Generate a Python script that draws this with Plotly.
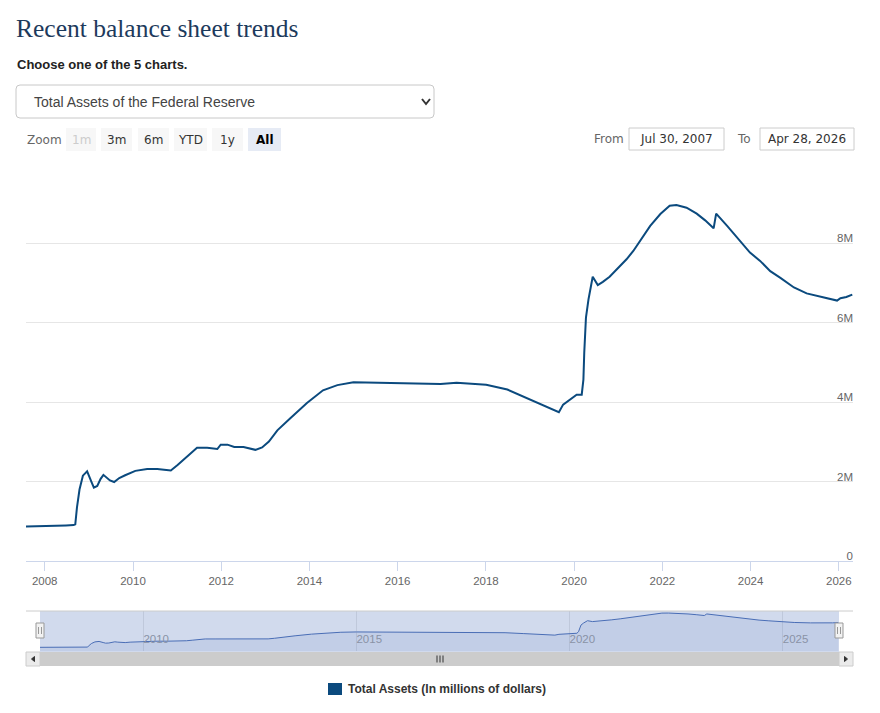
import plotly.graph_objects as go

W, H = 880, 713

# ---------------- data (millions of dollars) ----------------
dates = [
    "2007-07-30", "2007-12-26", "2008-03-26", "2008-06-25", "2008-08-27", "2008-09-10",
    "2008-09-24", "2008-10-15", "2008-11-12", "2008-12-17", "2009-01-21", "2009-02-11",
    "2009-03-11", "2009-04-08", "2009-05-01", "2009-05-27", "2009-06-24", "2009-07-29",
    "2009-09-09", "2009-10-28", "2009-12-30", "2010-01-20", "2010-04-28", "2010-07-21",
    "2010-09-15", "2010-11-10", "2011-01-05", "2011-02-23", "2011-04-20", "2011-06-15",
    "2011-09-07", "2011-11-30", "2011-12-28", "2012-02-22", "2012-04-18", "2012-07-04",
    "2012-10-10", "2012-12-05", "2013-01-30", "2013-04-10", "2013-07-24", "2013-12-11",
    "2014-04-23", "2014-08-20", "2014-12-31", "2015-06-17", "2016-03-16", "2016-12-21",
    "2017-05-03", "2017-10-04", "2018-01-03", "2018-06-27", "2018-12-05", "2019-05-15",
    "2019-08-28", "2019-10-02", "2019-11-27", "2020-01-22", "2020-03-04", "2020-03-18",
    "2020-03-25", "2020-04-08", "2020-04-29", "2020-05-13", "2020-06-03", "2020-07-15",
    "2020-08-26", "2020-10-21", "2020-12-23", "2021-03-10", "2021-05-05", "2021-06-30",
    "2021-09-22", "2021-12-15", "2022-03-02", "2022-04-27", "2022-07-20", "2022-10-12",
    "2022-12-21", "2023-03-01", "2023-03-22", "2023-06-21", "2023-10-04", "2023-12-27",
    "2024-03-20", "2024-06-12", "2024-09-04", "2024-12-25", "2025-04-09", "2025-08-27",
    "2025-12-17", "2026-01-14", "2026-03-04", "2026-04-22",
]
total_assets = [
    869000, 890000, 885000, 897000, 905000, 925000,
    1350000, 1800000, 2150000, 2260000, 2000000, 1850000,
    1890000, 2070000, 2170000, 2090000, 2030000, 1990000,
    2090000, 2160000, 2240000, 2270000, 2320000, 2320000,
    2300000, 2280000, 2420000, 2550000, 2720000, 2850000,
    2850000, 2820000, 2930000, 2930000, 2870000, 2870000,
    2800000, 2860000, 3010000, 3290000, 3590000, 3980000,
    4300000, 4430000, 4500000, 4490000, 4490000, 4460000,
    4490000, 4460000, 4440000, 4320000, 4110000, 3900000,
    3750000, 3940000, 4070000, 4190000, 4190000, 4570000,
    5250000, 6130000, 6590000, 6840000, 7160000, 6950000,
    7030000, 7160000, 7350000, 7600000, 7810000, 8060000,
    8440000, 8740000, 8950000, 8965000, 8900000, 8750000,
    8580000, 8380000, 8750000, 8440000, 8060000, 7770000,
    7560000, 7300000, 7130000, 6890000, 6740000, 6640000,
    6560000, 6620000, 6650000, 6710000,
]
series_name = "Total Assets (In millions of dollars)"

x_start, x_end = "2007-07-30", "2026-04-28"
x_tick_vals = ["2008-01-01", "2010-01-01", "2012-01-01", "2014-01-01", "2016-01-01",
               "2018-01-01", "2020-01-01", "2022-01-01", "2024-01-01", "2026-01-01"]
x_tick_text = ["2008", "2010", "2012", "2014", "2016", "2018", "2020", "2022", "2024", "2026"]
y_tick_vals = [0, 2000000, 4000000, 6000000, 8000000, 10000000]
y_tick_text = ["0", "2M", "4M", "6M", "8M", ""]
nav_tick_vals = ["2010-01-01", "2015-01-01", "2020-01-01", "2025-01-01"]
nav_tick_text = ["2010", "2015", "2020", "2025"]

title_text = "Recent balance sheet trends"
subtitle_text = "Choose one of the 5 charts."
dropdown_text = "Total Assets of the Federal Reserve"
zoom_buttons = ["1m", "3m", "6m", "YTD", "1y", "All"]
from_text, to_text = "Jul 30, 2007", "Apr 28, 2026"

LINE = "#0b4a7e"


def fx(x):
    return x / W


def fy(y):
    return 1 - y / H


def rrect(x0, y0, x1, y1, r):
    a0, a1 = fx(x0), fx(x1)
    b0, b1 = fy(y0), fy(y1)
    rx, ry = r / W, r / H
    return (f"M{a0+rx},{b0} L{a1-rx},{b0} Q{a1},{b0} {a1},{b0-ry} "
            f"L{a1},{b1+ry} Q{a1},{b1} {a1-rx},{b1} L{a0+rx},{b1} "
            f"Q{a0},{b1} {a0},{b1+ry} L{a0},{b0-ry} Q{a0},{b0} {a0+rx},{b0} Z")


fig = go.Figure()
fig.add_trace(go.Scatter(
    x=dates, y=total_assets, mode="lines", name=series_name,
    line=dict(color=LINE, width=2), xaxis="x", yaxis="y",
    showlegend=False, hoverinfo="x+y"))
fig.add_trace(go.Scatter(
    x=dates, y=total_assets, mode="lines", name=series_name,
    line=dict(color="#3d64b0", width=1), fill="tozeroy",
    fillcolor="rgba(51,92,173,0.10)", xaxis="x2", yaxis="y2",
    showlegend=False, hoverinfo="skip"))

shapes = []
ann = []

# header
ann.append(dict(text=title_text, x=fx(14), y=fy(28), xanchor="left", yanchor="middle",
                font=dict(family="Liberation Serif, serif", size=25.5, color="#1d3a5c")))
ann.append(dict(text="<b>" + subtitle_text + "</b>", x=fx(15), y=fy(64), xanchor="left",
                yanchor="middle", font=dict(family="Liberation Sans, Arial", size=13, color="#222")))
shapes.append(dict(type="path", path=rrect(16, 85, 434, 118, 4), line=dict(color="#c8c8c8", width=1),
                   fillcolor="white"))
ann.append(dict(text=dropdown_text, x=fx(32), y=fy(102), xanchor="left", yanchor="middle",
                font=dict(family="Liberation Sans, Arial", size=14, color="#444")))
shapes.append(dict(type="path",
                   path=f"M{fx(422)},{fy(99)} L{fx(426)},{fy(104)} L{fx(430)},{fy(99)}",
                   line=dict(color="#333", width=2)))

# zoom row
ann.append(dict(text="Zoom", x=fx(25), y=fy(140), xanchor="left", yanchor="middle",
                font=dict(family="DejaVu Sans", size=12, color="#666")))
btn_x = [(66, 96), (101, 132), (138, 169), (174, 207), (212, 243), (248, 281)]
for (bx0, bx1), lab in zip(btn_x, zoom_buttons):
    sel = lab == "All"
    dis = lab == "1m"
    shapes.append(dict(type="rect", x0=fx(bx0), x1=fx(bx1), y0=fy(128), y1=fy(151),
                       fillcolor="#e6ebf5" if sel else "#f7f7f7", line=dict(width=0)))
    ann.append(dict(text=("<b>%s</b>" % lab) if sel else lab, x=fx((bx0 + bx1) / 2), y=fy(139.5),
                    xanchor="center", yanchor="middle",
                    font=dict(family="DejaVu Sans", size=12,
                              color="#cccccc" if dis else ("#000" if sel else "#333"))))
ann.append(dict(text="From", x=fx(592), y=fy(139), xanchor="left", yanchor="middle",
                font=dict(family="DejaVu Sans", size=12, color="#666")))
ann.append(dict(text="To", x=fx(735), y=fy(139), xanchor="left", yanchor="middle",
                font=dict(family="DejaVu Sans", size=12, color="#666")))
for (bx0, bx1), t in [((629, 724), from_text), ((760, 854), to_text)]:
    shapes.append(dict(type="rect", x0=fx(bx0), x1=fx(bx1), y0=fy(128), y1=fy(150),
                       fillcolor="white", line=dict(color="#cccccc", width=1)))
    ann.append(dict(text=t, x=fx((bx0 + bx1) / 2), y=fy(139), xanchor="center", yanchor="middle",
                    font=dict(family="DejaVu Sans", size=12, color="#333")))

# navigator mask + outline
shapes.append(dict(type="rect", x0=fx(40), x1=fx(839), y0=fy(611), y1=fy(652),
                   fillcolor="rgba(102,133,194,0.3)", line=dict(width=0), layer="above"))
shapes.append(dict(type="line", x0=fx(26), x1=fx(853), y0=fy(611), y1=fy(611),
                   line=dict(color="#cccccc", width=1)))
# scrollbar
shapes.append(dict(type="rect", x0=fx(26), x1=fx(853), y0=fy(652), y1=fy(666),
                   fillcolor="#f2f2f2", line=dict(width=0)))
shapes.append(dict(type="rect", x0=fx(40), x1=fx(839), y0=fy(652), y1=fy(666),
                   fillcolor="#cccccc", line=dict(width=0)))
for bx0, bx1 in [(26, 40), (839, 853)]:
    shapes.append(dict(type="rect", x0=fx(bx0), x1=fx(bx1), y0=fy(652), y1=fy(666),
                       fillcolor="#ebebeb", line=dict(color="#cccccc", width=1)))
shapes.append(dict(type="path", path=f"M{fx(34.5)},{fy(656.5)} L{fx(31.5)},{fy(659)} L{fx(34.5)},{fy(661.5)} Z",
                   fillcolor="#333", line=dict(color="#333", width=1)))
shapes.append(dict(type="path", path=f"M{fx(844.5)},{fy(656.5)} L{fx(847.5)},{fy(659)} L{fx(844.5)},{fy(661.5)} Z",
                   fillcolor="#333", line=dict(color="#333", width=1)))
for gx in (437, 440, 443):
    shapes.append(dict(type="line", x0=fx(gx), x1=fx(gx), y0=fy(655.5), y1=fy(662.5),
                       line=dict(color="#333", width=1)))
# handles
for hx in (40, 839):
    shapes.append(dict(type="rect", x0=fx(hx - 4), x1=fx(hx + 4), y0=fy(623), y1=fy(638),
                       fillcolor="#f2f2f2", line=dict(color="#999999", width=1)))
    for lx in (hx - 1.5, hx + 1.5):
        shapes.append(dict(type="line", x0=fx(lx), x1=fx(lx), y0=fy(627), y1=fy(634),
                           line=dict(color="#999999", width=1)))

# legend
shapes.append(dict(type="rect", x0=fx(328), x1=fx(342), y0=fy(683), y1=fy(695),
                   fillcolor=LINE, line=dict(width=0)))
ann.append(dict(text="<b>" + series_name + "</b>", x=fx(346), y=fy(689), xanchor="left", yanchor="middle",
                font=dict(family="Liberation Sans, Arial", size=12, color="#333")))

for a in ann:
    a.update(xref="paper", yref="paper", showarrow=False)
for s in shapes:
    s.update(xref="paper", yref="paper")

tick_font = dict(family="Liberation Sans, Arial", size=11.5, color="#666")

fig.update_layout(
    width=W, height=H, margin=dict(l=0, r=0, t=0, b=0),
    paper_bgcolor="white", plot_bgcolor="white", showlegend=False,
    shapes=shapes, annotations=ann,
    xaxis=dict(domain=[fx(26), fx(853)], anchor="y", type="date", range=[x_start, x_end],
               tickmode="array", tickvals=x_tick_vals, ticktext=x_tick_text,
               showgrid=False, showline=True, linecolor="#ccd6eb", linewidth=1,
               ticks="outside", ticklen=9, tickcolor="#ccd6eb", tickfont=tick_font,
               ticklabeloverflow="allow", zeroline=False, fixedrange=True),
    yaxis=dict(domain=[fy(561), fy(164)], anchor="x", range=[0, 10000000],
               tickmode="array", tickvals=y_tick_vals, ticktext=y_tick_text,
               side="right", ticklabelposition="inside top", showgrid=True,
               gridcolor="#e6e6e6", gridwidth=1, zeroline=False, showline=False,
               ticklabeloverflow="allow", ticklabelshift=3, ticklabelstandoff=-3,
               tickfont=tick_font, fixedrange=True),
    xaxis2=dict(domain=[fx(40), fx(839)], anchor="y2", type="date", range=[x_start, x_end],
                tickmode="array", tickvals=nav_tick_vals, ticktext=nav_tick_text,
                showgrid=True, gridcolor="#e6e6e6", showline=False, ticks="",
                ticklabelposition="inside right",
                tickfont=dict(family="Liberation Sans, Arial", size=11.5, color="#999"),
                zeroline=False, fixedrange=True),
    yaxis2=dict(domain=[fy(651), fy(611)], anchor="x2", range=[0, 9450000],
                showgrid=False, showticklabels=False, zeroline=False, showline=False,
                fixedrange=True),
)

fig.write_html("out.html")
